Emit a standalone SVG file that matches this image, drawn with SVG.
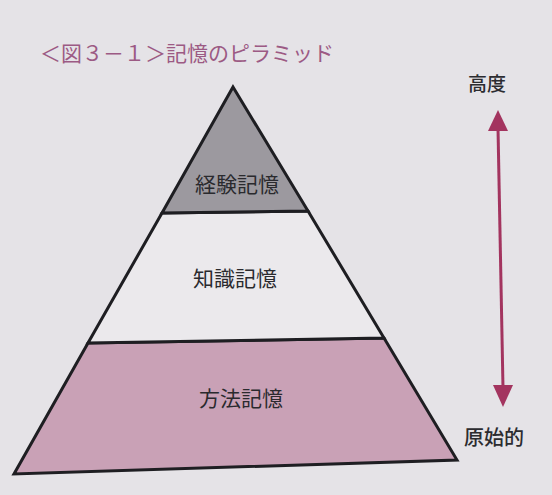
<svg xmlns="http://www.w3.org/2000/svg" width="552" height="495" viewBox="0 0 552 495">
<defs>
<style>
.lbl{font-family:"Noto Sans CJK JP","Noto Sans CJK SC",sans-serif;font-size:21px;fill:#2a2a2e;text-anchor:middle}
.side{font-family:"Noto Sans CJK JP","Noto Sans CJK SC",sans-serif;font-size:19px;fill:#2c2c30;text-anchor:middle;font-weight:500}
.edge{stroke:#1e1e22;stroke-width:3;stroke-linejoin:miter}
</style>
</defs>
<rect width="552" height="495" fill="#e5e3e7"/>
<text x="40" y="61" style="font-family:'Noto Sans CJK JP','Noto Sans CJK SC',sans-serif;font-size:21px;fill:#9c5a84">＜図３－１＞記憶のピラミッド</text>
<g id="layer-bottom">
<polygon class="edge" points="88,343 384,338 457,460 14,474" fill="#c9a1b6"/>
<text class="lbl" x="241" y="406">方法記憶</text>
</g>
<g id="layer-middle">
<polygon class="edge" points="162,213 308,211 384,338 88,343" fill="#ebe9ec"/>
<text class="lbl" x="235" y="286">知識記憶</text>
</g>
<g id="layer-top">
<polygon class="edge" points="233,87 308,211 162,213" fill="#9c999f"/>
<text class="lbl" x="237" y="192">経験記憶</text>
</g>
<g id="scale">
<text class="side" x="487" y="91">高度</text>
<text class="side" x="494" y="445" style="font-size:20px">原始的</text>
</g>
<g id="connectors">
<line x1="498" y1="128" x2="503" y2="388" stroke="#a3345f" stroke-width="3"/>
<polygon points="498,110 488,131 508,131" fill="#a3345f"/>
<polygon points="503,407 493,385 513,385" fill="#a3345f"/>
</g>
</svg>
